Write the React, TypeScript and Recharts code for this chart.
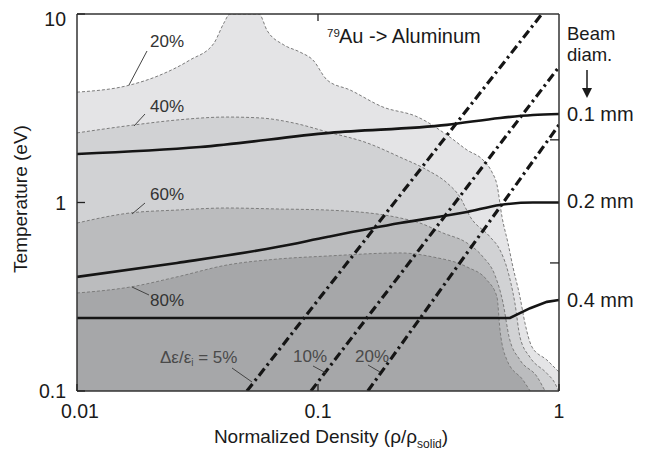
import { Area, ComposedChart, Line, XAxis, YAxis } from "recharts";

const W = 646;
const H = 452;
const FONT = "'Liberation Sans', Arial, Helvetica, sans-serif";

const xTicks = [0.01, 0.1, 1];
const yTicks = [0.1, 1, 10];
const topTicks = [0.1];
const rightTicks = [0.478, 2.15];

// shaded regions, [density, temperature]
const band20: [number, number][] = [
  [0.01, 3.85], [0.0166, 4.2], [0.0221, 4.74], [0.0294, 5.7], [0.037, 7.0], [0.0407, 8.96],
  [0.0431, 10], [0.0569, 10], [0.0614, 8.2], [0.0722, 6.85], [0.0842, 6.28], [0.0953, 5.7],
  [0.109, 4.47], [0.136, 3.95], [0.186, 3.21], [0.258, 2.85], [0.353, 2.22], [0.415, 1.9],
  [0.484, 1.68], [0.527, 1.45], [0.553, 1.24], [0.58, 0.84], [0.614, 0.61], [0.644, 0.455],
  [0.689, 0.315], [0.722, 0.23], [0.773, 0.171], [0.891, 0.146], [1, 0.126],
];
const band40: [number, number][] = [
  [0.01, 2.34], [0.0173, 2.58], [0.026, 2.74], [0.0419, 2.84], [0.0574, 2.81], [0.0794, 2.64],
  [0.109, 2.37], [0.16, 2.07], [0.219, 1.74], [0.283, 1.49], [0.343, 1.27], [0.388, 1.07],
  [0.428, 0.84], [0.518, 0.656], [0.569, 0.56], [0.608, 0.45], [0.656, 0.293], [0.689, 0.193],
  [0.758, 0.151], [0.891, 0.124], [0.962, 0.11], [0.995, 0.1],
];
const band60: [number, number][] = [
  [0.01, 0.778], [0.0166, 0.88], [0.026, 0.912], [0.0419, 0.935], [0.0676, 0.924], [0.109, 0.912],
  [0.219, 0.828], [0.265, 0.778], [0.33, 0.689], [0.415, 0.61], [0.484, 0.514], [0.542, 0.412],
  [0.586, 0.293], [0.621, 0.193], [0.689, 0.146], [0.811, 0.119], [0.875, 0.1],
];
const band80: [number, number][] = [
  [0.01, 0.331], [0.0166, 0.356], [0.026, 0.403], [0.0419, 0.466], [0.0676, 0.501], [0.109, 0.52],
  [0.219, 0.54], [0.3, 0.514], [0.415, 0.455], [0.502, 0.388], [0.553, 0.315], [0.569, 0.211],
  [0.608, 0.146], [0.71, 0.114], [0.759, 0.1],
];

// beam diameter lines
const beam01: [number, number][] = [
  [0.01, 1.81], [0.0324, 1.97], [0.112, 2.34], [0.343, 2.58], [0.569, 2.81], [0.78, 2.91], [1, 2.95],
];
const beam02: [number, number][] = [
  [0.01, 0.403], [0.026, 0.478], [0.0676, 0.58], [0.109, 0.656], [0.219, 0.778], [0.415, 0.891],
  [0.569, 0.97], [0.78, 1.0], [1, 1.0],
];
const beam04: [number, number][] = [
  [0.01, 0.244], [0.626, 0.244], [0.759, 0.275], [0.891, 0.297], [1, 0.304],
];

// Δε/εi contours
const eps5: [number, number][] = [[0.0507, 0.1], [0.849, 10]];
const eps10: [number, number][] = [[0.0935, 0.1], [1, 5.24]];
const eps20: [number, number][] = [[0.161, 0.1], [1, 2.58]];

const pts = (a: [number, number][]) => a.map(([x, y]) => ({ x, y }));

function BottomTick({ x, y, payload }: any) {
  return (
    <g>
      <line x1={x} x2={x} y1={y} y2={y - 7} stroke="#222" strokeWidth={1.3} />
      <text x={x + (payload.value === 0.01 ? 3 : 0)} y={y + 20} textAnchor="middle" dominantBaseline="central" fontSize={19.5} fill="#1a1a1a" fontFamily={FONT}>
        {payload.value}
      </text>
    </g>
  );
}

function LeftTick({ x, y, payload }: any) {
  return (
    <g>
      <line x1={x} x2={x + 8} y1={y} y2={y} stroke="#222" strokeWidth={1.3} />
      <text x={x - 11} y={y + (payload.value === 10 ? 5 : 0)} textAnchor="end" dominantBaseline="central" fontSize={19.5} fill="#1a1a1a" fontFamily={FONT}>
        {payload.value}
      </text>
    </g>
  );
}

function TopTick({ x, y }: any) {
  return <line x1={x} x2={x} y1={y} y2={y + 7} stroke="#222" strokeWidth={1.3} />;
}

function RightTick({ x, y }: any) {
  return <line x1={x} x2={x - 9} y1={y} y2={y} stroke="#222" strokeWidth={1.3} />;
}

const bandStroke = { stroke: "#7c7c7c", strokeWidth: 1, strokeDasharray: "3 2" };
const dashDot = { stroke: "#151515", strokeWidth: 3.2, strokeDasharray: "9 4 2.5 4" };

export default function App() {
  return (
    <div style={{ position: "absolute", left: 0, top: 0, width: W, height: H, background: "#fff", fontFamily: FONT }}>
      <ComposedChart width={W} height={H} margin={{ top: 0, right: 0, bottom: 0, left: 0 }}>
        <XAxis xAxisId="b" type="number" dataKey="x" scale="log" domain={[0.01, 1]} allowDataOverflow ticks={xTicks}
          orientation="bottom" height={61} tickSize={0} tickMargin={0} tickLine={false} axisLine={{ stroke: "#333", strokeWidth: 1.5 }} tick={<BottomTick />} />
        <XAxis xAxisId="t" type="number" dataKey="x" scale="log" domain={[0.01, 1]} allowDataOverflow ticks={topTicks}
          orientation="top" height={14} tickSize={0} tickMargin={0} tickLine={false} axisLine={{ stroke: "#333", strokeWidth: 1.5 }} tick={<TopTick />} />
        <YAxis yAxisId="l" type="number" dataKey="y" scale="log" domain={[0.1, 10]} allowDataOverflow ticks={yTicks}
          orientation="left" width={77} tickSize={0} tickMargin={0} tickLine={false} axisLine={{ stroke: "#333", strokeWidth: 1.5 }} tick={<LeftTick />} />
        <YAxis yAxisId="r" type="number" dataKey="y" scale="log" domain={[0.1, 10]} allowDataOverflow ticks={rightTicks}
          orientation="right" width={87} tickSize={0} tickMargin={0} tickLine={false} axisLine={{ stroke: "#333", strokeWidth: 1.5 }} tick={<RightTick />} />

        <Area xAxisId="b" yAxisId="l" data={pts(band20)} dataKey="y" type="monotone" baseValue={0.1} fill="#e4e4e6" fillOpacity={1} {...bandStroke} isAnimationActive={false} />
        <Area xAxisId="b" yAxisId="l" data={pts(band40)} dataKey="y" type="monotone" baseValue={0.1} fill="#d1d2d4" fillOpacity={1} {...bandStroke} isAnimationActive={false} />
        <Area xAxisId="b" yAxisId="l" data={pts(band60)} dataKey="y" type="monotone" baseValue={0.1} fill="#bbbcbe" fillOpacity={1} {...bandStroke} isAnimationActive={false} />
        <Area xAxisId="b" yAxisId="l" data={pts(band80)} dataKey="y" type="monotone" baseValue={0.1} fill="#a6a7a9" fillOpacity={1} {...bandStroke} isAnimationActive={false} />

        <Line xAxisId="b" yAxisId="l" data={pts(beam01)} dataKey="y" type="monotone" stroke="#151515" strokeWidth={2.6} dot={false} isAnimationActive={false} />
        <Line xAxisId="b" yAxisId="l" data={pts(beam02)} dataKey="y" type="monotone" stroke="#151515" strokeWidth={2.6} dot={false} isAnimationActive={false} />
        <Line xAxisId="b" yAxisId="l" data={pts(beam04)} dataKey="y" type="linear" stroke="#151515" strokeWidth={2.6} dot={false} isAnimationActive={false} />

        <Line xAxisId="b" yAxisId="l" data={pts(eps5)} dataKey="y" type="linear" {...dashDot} dot={false} isAnimationActive={false} />
        <Line xAxisId="b" yAxisId="l" data={pts(eps10)} dataKey="y" type="linear" {...dashDot} dot={false} isAnimationActive={false} />
        <Line xAxisId="b" yAxisId="l" data={pts(eps20)} dataKey="y" type="linear" {...dashDot} dot={false} isAnimationActive={false} />
      </ComposedChart>

      <svg width={W} height={H} style={{ position: "absolute", left: 0, top: 0, pointerEvents: "none" }} fontFamily={FONT}>
        {/* region labels */}
        <g fontSize={17} fill="#333" dominantBaseline="central">
          <text x={150} y={41}>20%</text>
          <text x={150} y={106}>40%</text>
          <text x={150} y={194}>60%</text>
          <text x={150} y={300}>80%</text>
        </g>
        <g stroke="#444" strokeWidth={1}>
          <line x1={147} y1={51} x2={129} y2={85} />
          <line x1={145} y1={114} x2={134} y2={126} />
          <line x1={145} y1={203} x2={132} y2={214} />
          <line x1={132} y1={287} x2={149} y2={295} />
          <line x1={232} y1={368} x2={252} y2={382} />
          <line x1={313} y1={366} x2={326} y2={373} />
          <line x1={368} y1={365} x2={380} y2={372} />
        </g>
        <g fontSize={17} fill="#4a4a4a" dominantBaseline="central">
          <text x={160} y={357}>Δε/ε<tspan fontSize={10} dy={5}>i</tspan><tspan dy={-5}> = 5%</tspan></text>
          <text x={293} y={356}>10%</text>
          <text x={355} y={356}>20%</text>
        </g>

        {/* title */}
        <text x={327} y={37} fontSize={11.5} fill="#1a1a1a">79</text>
        <text x={339} y={43} fontSize={20} fill="#1a1a1a">Au -&gt; Aluminum</text>

        {/* right annotations */}
        <g fontSize={18.5} fill="#1a1a1a">
          <text x={567} y={40}>Beam</text>
          <text x={567} y={61}>diam.</text>
        </g>
        <g fontSize={20} fill="#1a1a1a">
          <text x={567} y={121}>0.1 mm</text>
          <text x={567} y={208}>0.2 mm</text>
          <text x={567} y={307}>0.4 mm</text>
        </g>
        <line x1={587} y1={70} x2={587} y2={92} stroke="#1a1a1a" strokeWidth={1.5} />
        <path d="M582,88 L587,98 L592,88 Z" fill="#1a1a1a" />

        {/* axis titles */}
        <text x={20} y={199} transform="rotate(-90 20 199)" textAnchor="middle" dominantBaseline="central" fontSize={19} fill="#1a1a1a">
          Temperature (eV)
        </text>
        <text x={331} y={443} textAnchor="middle" fontSize={19} fill="#1a1a1a">
          Normalized Density (ρ/ρ<tspan fontSize={12} dy={5}>solid</tspan><tspan dy={-5}>)</tspan>
        </text>
      </svg>
    </div>
  );
}
